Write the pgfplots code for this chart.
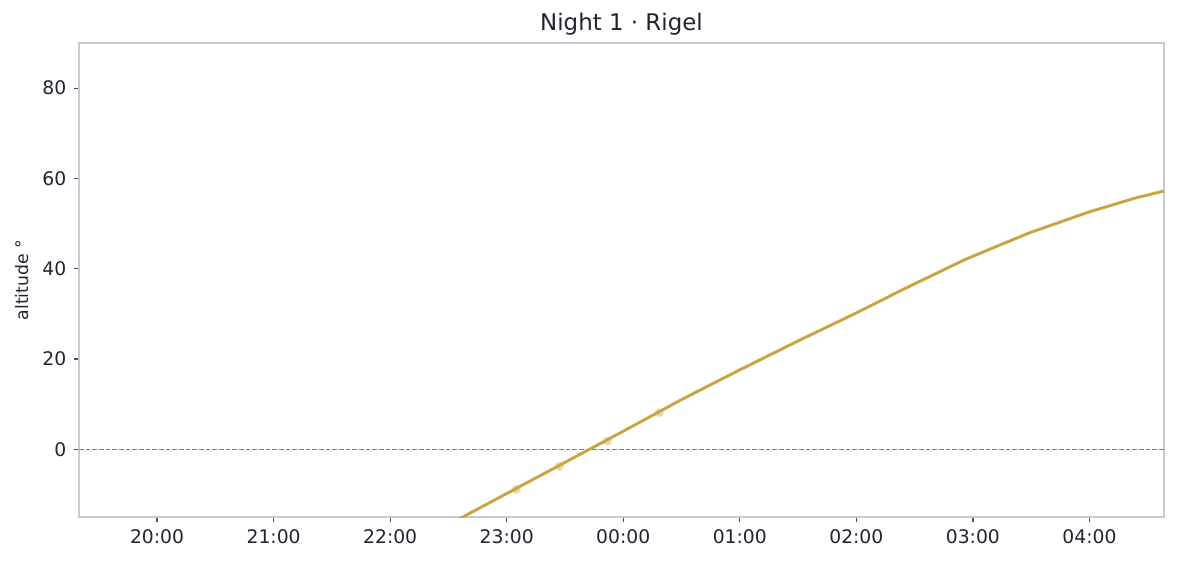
\documentclass[border=0pt]{standalone}
\usepackage{fontspec}
\setmainfont{DejaVu Sans}
\usepackage{pgfplots}
\pgfplotsset{compat=1.18}
\definecolor{linegold}{RGB}{201,164,64}
\definecolor{framec}{RGB}{200,200,214}
\definecolor{textc}{RGB}{34,34,48}
\definecolor{dashc}{RGB}{122,120,148}
\begin{document}
\begin{tikzpicture}
\begin{axis}[
  scale only axis,
  width=520.8pt, height=227.52pt,
  xmin=19.33, xmax=28.64, ymin=-15, ymax=90,
  xtick={20,21,22,23,24,25,26,27,28},
  xticklabels={20:00,21:00,22:00,23:00,00:00,01:00,02:00,03:00,04:00},
  ytick={0,20,40,60,80},
  /pgf/number format/assume math mode=true,
  tick label style={font=\fontsize{9pt}{10pt}\selectfont, text=textc},
  axis line style={draw=framec, line width=0.7pt},
  tick style={draw=textc!80, line width=0.6pt},
  tick align=outside, major tick length=2.6pt,
  xtick pos=bottom, ytick pos=left,
  clip mode=individual,
]
\addplot[dashc, line width=0.6pt, dash pattern=on 2.2pt off 1pt, forget plot] coordinates {(19.33,0) (28.64,0)};
\addplot[only marks, color=linegold!40!white, mark=*, mark size=2pt, mark options={draw=linegold!32!white, fill=linegold!42!white}] coordinates {
(23.082,-8.9) (23.451,-3.8) (23.862,1.8) (24.308,8.1)
};
\addplot[linegold, line width=1.4pt] coordinates {
(22.5,-16.7) (23.0,-9.8) (23.5,-2.9) (24.0,4.0) (24.5,11.0) (25.0,17.6) (25.5,24.0) (26.0,30.2) (26.4,35.4) (26.93,42.0) (27.48,47.9) (28.0,52.6) (28.4,55.7) (28.7,57.6)
};
\node[anchor=base, font=\fontsize{11pt}{12pt}\selectfont, text=textc] at (rel axis cs:0.5,1) [yshift=5.8pt] {Night 1 · Rigel};
\node[rotate=90, font=\fontsize{8.3pt}{9pt}\selectfont, text=textc] at ([xshift=-27.4pt]rel axis cs:0,0.5) {altitude °};
\end{axis}
\pgfresetboundingbox
\useasboundingbox (-37.92pt,-22.56pt) rectangle (527.04pt,248.16pt);
\end{tikzpicture}
\end{document}
